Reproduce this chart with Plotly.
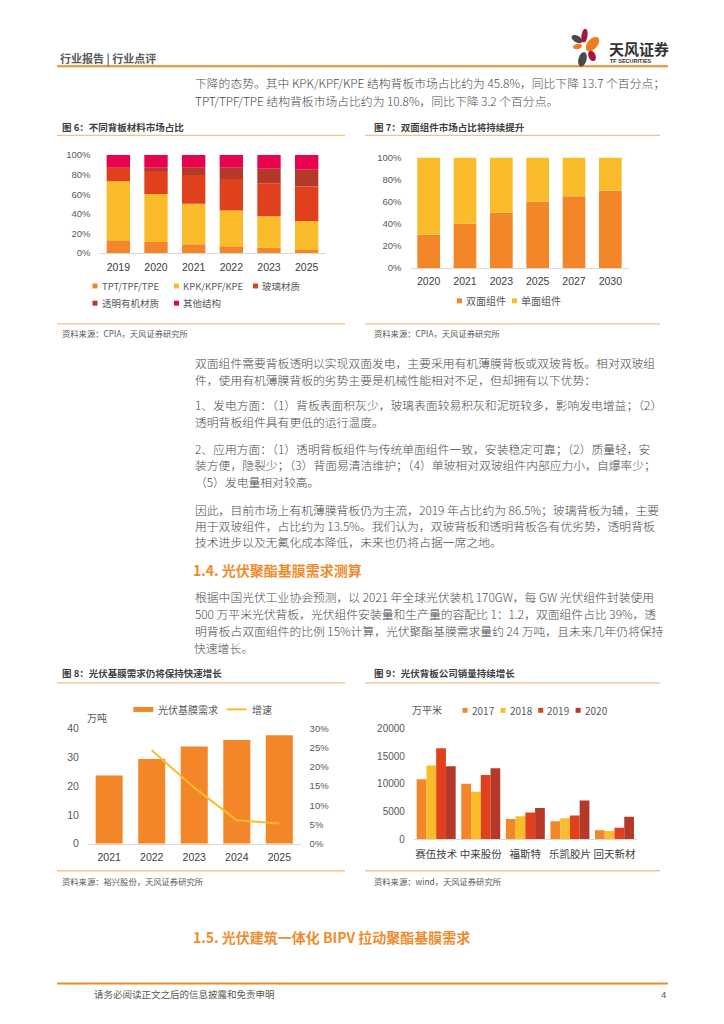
import math
import numpy as np
import plotly.graph_objects as go

W, H = 724, 1024
def X(p): return p / W
def Y(p): return 1 - p / H

CJK = "Noto Sans CJK SC"
NUM = "Liberation Sans, Noto Sans CJK SC"

# ---------------- data ----------------
c6_years = ["2019", "2020", "2021", "2022", "2023", "2025"]
c6_tpt = [13.1, 11.4, 9.1, 7.0, 5.4, 3.0]
c6_kpk = [60.1, 48.7, 41.2, 36.3, 32.2, 29.6]
c6_glass = [13.7, 23.5, 29.2, 32.2, 33.5, 35.2]
c6_organic = [0.0, 3.3, 7.4, 11.4, 14.8, 17.1]
c6_other = [13.1, 13.1, 13.1, 13.1, 14.1, 15.1]
c6_names = ["TPT/TPF/TPE", "KPK/KPF/KPE", "玻璃材质", "透明有机材质", "其他结构"]
c6_ticks = [0, 20, 40, 60, 80, 100]

c7_years = ["2020", "2021", "2023", "2025", "2027", "2030"]
c7_double = [30, 40, 50, 60, 65, 70]
c7_single = [70, 60, 50, 40, 35, 30]
c7_names = ["双面组件", "单面组件"]

c8_years = ["2021", "2022", "2023", "2024", "2025"]
c8_demand = [23.7, 29.4, 33.7, 36.0, 37.6]
c8_growth = [None, 0.243, 0.146, 0.061, 0.053]
c8_names = ["光伏基膜需求", "增速"]
c8_left_ticks = [0, 10, 20, 30, 40]
c8_right_ticks = [0, 0.05, 0.10, 0.15, 0.20, 0.25, 0.30]

c9_companies = ["赛伍技术", "中来股份", "福斯特", "乐凯胶片", "回天新材"]
c9_years = ["2017", "2018", "2019", "2020"]
c9_2017 = [10800, 10000, 3650, 3250, 1600]
c9_2018 = [13300, 8550, 4150, 3750, 1450]
c9_2019 = [16400, 11600, 4800, 4250, 2050]
c9_2020 = [13150, 12800, 5600, 7000, 4050]
c9_ticks = [0, 5000, 10000, 15000, 20000]

# ---------------- colours ----------------
ORANGE = "#F4862A"
YELLOW = "#FBBC2C"
RED = "#E0401C"
DARKRED = "#B5392B"
PINK = "#E8034F"
TXT = "#404040"
BODY = "#4A4A4A"
GRAY = "#595959"
AXIS = "#D9D9D9"
HEAD_OR = "#F08B2C"
LIGHT_OR = "#F6C08C"

fig = go.Figure()

# chart 6: stacked shares of backsheet materials
base = np.zeros(len(c6_years))
for vals, name, col in zip([c6_tpt, c6_kpk, c6_glass, c6_organic, c6_other], c6_names,
                           [ORANGE, YELLOW, RED, DARKRED, PINK]):
    fig.add_trace(go.Bar(x=c6_years, y=vals, base=base.copy(), name=name, marker_color=col,
                         marker_line_width=0, width=0.62, xaxis="x", yaxis="y", showlegend=False))
    base += np.array(vals)

# chart 7: bifacial vs monofacial
base = np.zeros(len(c7_years))
for vals, name, col in zip([c7_double, c7_single], c7_names, [ORANGE, YELLOW]):
    fig.add_trace(go.Bar(x=c7_years, y=vals, base=base.copy(), name=name, marker_color=col,
                         marker_line_width=0, width=0.625, xaxis="x2", yaxis="y2", showlegend=False))
    base += np.array(vals)

# chart 8: film demand + growth
fig.add_trace(go.Bar(x=c8_years, y=c8_demand, name=c8_names[0], marker_color=ORANGE,
                     marker_line_width=0, width=0.635, xaxis="x3", yaxis="y3", showlegend=False))
fig.add_trace(go.Scatter(x=c8_years, y=c8_growth, name=c8_names[1], mode="lines",
                         line=dict(color=YELLOW, width=2), xaxis="x3", yaxis="y4",
                         showlegend=False, connectgaps=False))

# chart 9: grouped company sales
bw = 0.2185
for i, (vals, name, col) in enumerate(zip([c9_2017, c9_2018, c9_2019, c9_2020], c9_years,
                                          [ORANGE, YELLOW, RED, DARKRED])):
    fig.add_trace(go.Bar(x=c9_companies, y=vals, name=name, marker_color=col, marker_line_width=0,
                         width=bw, offset=-2 * bw + i * bw, xaxis="x5", yaxis="y5", showlegend=False))

def xax(d0, d1, anchor, n, fs=10.5, standoff=4):
    return dict(domain=[X(d0), X(d1)], anchor=anchor, type="category", range=[-0.5, n - 0.5],
                showline=True, linecolor=AXIS, linewidth=1, ticks="", showgrid=False, zeroline=False,
                tickfont=dict(family=NUM, size=fs, color=TXT), ticklabelstandoff=standoff, fixedrange=True)

def yax(top, bottom, anchor, rng, vals, text, fs=9.5, standoff=8, side="left", overlay=None):
    d = dict(domain=[Y(bottom), Y(top)], anchor=anchor, range=rng, tickvals=vals, ticktext=text,
             showline=False, showgrid=False, zeroline=False, ticks="", side=side,
             tickfont=dict(family=NUM, size=fs, color=GRAY), ticklabelstandoff=standoff, fixedrange=True)
    if overlay:
        d["overlaying"] = overlay
        d.pop("domain")
    return d

fig.update_layout(
    width=W, height=H, autosize=False, margin=dict(l=0, r=0, t=0, b=0),
    paper_bgcolor="white", plot_bgcolor="white", barmode="overlay", showlegend=False,
    font=dict(family=CJK, color=TXT),
    xaxis=xax(99.5, 325.5, "y", 6),
    yaxis=yax(150.7, 250, "x", [0, 100], c6_ticks, [f"{v}%" for v in c6_ticks]),
    xaxis2=xax(410.5, 628.5, "y2", 6),
    yaxis2=yax(153.3, 265, "x2", [0, 100], c6_ticks, [f"{v}%" for v in c6_ticks]),
    xaxis3=xax(87.9, 300.6, "y3", 5),
    yaxis3=yax(731, 847.7, "x3", [0, 40], c8_left_ticks, [str(v) for v in c8_left_ticks], fs=10.5),
    yaxis4=yax(731, 847.7, "x3", [0, 0.30], c8_right_ticks,
               [f"{round(v*100)}%" for v in c8_right_ticks], side="right", overlay="y3"),
    xaxis5=xax(413.9, 636.8, "y5", 5, fs=10.5, standoff=5),
    yaxis5=yax(731, 843, "x5", [0, 20000], c9_ticks, [str(v) for v in c9_ticks], fs=10),
)

ann = []
def T(x, y, s, size=11.5, color=TXT, bold=False, anchor="left", family=CJK, weight=None):
    txt = f"<b>{s}</b>" if bold else s
    f = dict(family=family, size=size, color=color)
    if weight is not None:
        f["weight"] = weight
    ann.append(dict(x=X(x), y=Y(y), xref="paper", yref="paper", text=txt, showarrow=False,
                    xanchor=anchor, yanchor="middle", font=f))

shapes = []
def HL(x0, x1, y, color, w):
    shapes.append(dict(type="line", xref="paper", yref="paper", x0=X(x0), x1=X(x1), y0=Y(y), y1=Y(y),
                       line=dict(color=color, width=w)))
def RECT(x0, y0, x1, y1, color):
    shapes.append(dict(type="rect", xref="paper", yref="paper", x0=X(x0), x1=X(x1), y0=Y(y1), y1=Y(y0),
                       fillcolor=color, line=dict(width=0)))
def ELL(cx, cy, rx, ry, ang, color):
    a = math.radians(ang)
    pts = []
    for k in range(40):
        t = 2 * math.pi * k / 40
        ex, ey = rx * math.cos(t), ry * math.sin(t)
        px = cx + ex * math.cos(a) - ey * math.sin(a)
        py = cy + ex * math.sin(a) + ey * math.cos(a)
        pts.append(f"{X(px):.5f},{Y(py):.5f}")
    shapes.append(dict(type="path", xref="paper", yref="paper", path="M" + " L".join(pts) + " Z",
                       fillcolor=color, line=dict(width=0)))

# ---------------- header ----------------
T(58, 53, "行业报告 | 行业点评", size=11, color=GRAY, bold=True)
HL(57, 668, 61, HEAD_OR, 2)
ELL(577, 33.5, 6, 3.3, 30, "#4A4A4A")
ELL(584.5, 30, 3, 7, 8, "#A8143F")
ELL(592.5, 38.5, 5, 8.5, 40, "#EF7F1A")
ELL(577.5, 41, 4.5, 2.6, -12, "#EF7F1A")
ELL(592, 50.5, 3.5, 5.5, -22, "#A8143F")
ELL(582.5, 54, 4, 7.5, 15, "#4A4A4A")
T(607, 43.5, "天风证券", size=15, color="#333333", bold=True)
T(608, 55.5, "TF SECURITIES", size=5.5, color="#333333", bold=True, family=NUM)

# ---------------- body text ----------------
body = [
    (77.7, "下降的态势。其中 KPK/KPF/KPE 结构背板市场占比约为 45.8%，同比下降 13.7 个百分点；"),
    (96, "TPT/TPF/TPE 结构背板市场占比约为 10.8%，同比下降 3.2 个百分点。"),
    (360.7, "双面组件需要背板透明以实现双面发电，主要采用有机薄膜背板或双玻背板。相对双玻组"),
    (377.7, "件，使用有机薄膜背板的劣势主要是机械性能相对不足，但却拥有以下优势："),
    (403.3, "1、发电方面：（1）背板表面积灰少，玻璃表面较易积灰和泥斑较多，影响发电增益；（2）"),
    (420, "透明背板组件具有更低的运行温度。"),
    (447.3, "2、应用方面：（1）透明背板组件与传统单面组件一致，安装稳定可靠；（2）质量轻，安"),
    (464.3, "装方便，隐裂少；（3）背面易清洁维护；（4）单玻相对双玻组件内部应力小，自爆率少；"),
    (481.3, "（5）发电量相对较高。"),
    (509, "因此，目前市场上有机薄膜背板仍为主流，2019 年占比约为 86.5%；玻璃背板为辅，主要"),
    (525.5, "用于双玻组件，占比约为 13.5%。我们认为，双玻背板和透明背板各有优劣势，透明背板"),
    (541.7, "技术进步以及无氟化成本降低，未来也仍将占据一席之地。"),
    (597.7, "根据中国光伏工业协会预测，以 2021 年全球光伏装机 170GW，每 GW 光伏组件封装使用"),
    (615, "500 万平米光伏背板，光伏组件安装量和生产量的容配比 1：1.2，双面组件占比 39%，透"),
    (631.7, "明背板占双面组件的比例 15%计算，光伏聚酯基膜需求量约 24 万吨，且未来几年仍将保持"),
    (649, "快速增长。"),
]
for y, s in body:
    T(192.5, y, s, size=11.8, color=BODY, weight=300)
T(191, 571, "1.4. 光伏聚酯基膜需求测算", size=14, color=HEAD_OR, bold=True)
T(191, 942, "1.5. 光伏建筑一体化 BIPV 拉动聚酯基膜需求", size=14, color=HEAD_OR, bold=True)

# ---------------- chart frames ----------------
for (x0, x1, x_t, ty, ly, sy, st, title, src) in [
    (57, 345, 60, 122.7, 131, 321.7, 330.7, "图 6：不同背板材料市场占比", "资料来源：CPIA，天风证券研究所"),
    (365, 660, 371.7, 122.7, 131, 321.7, 330.7, "图 7：双面组件市场占比将持续提升", "资料来源：CPIA，天风证券研究所"),
    (57, 345, 60, 675, 685, 875, 885, "图 8：光伏基膜需求仍将保持快速增长", "资料来源：裕兴股份，天风证券研究所"),
    (365, 660, 371.7, 675, 685, 875, 885, "图 9：光伏背板公司销量持续增长", "资料来源：wind，天风证券研究所"),
]:
    T(x_t, ty, title, size=9.5, color=TXT, bold=True)
    HL(x0, x1, ly, LIGHT_OR, 1.3)
    HL(x0, x1, sy, LIGHT_OR, 1.3)
    T(x_t, st, src, size=8.3, color=GRAY)

# ---------------- legends ----------------
def LEG_SQ(x, y, color, label, size=9.5):
    RECT(x, y - 2.5, x + 5, y + 2.5, color)
    T(x + 7, y, label, size=size, color=GRAY)

LEG_SQ(92.5, 283.3, ORANGE, c6_names[0])
LEG_SQ(174, 283.3, YELLOW, c6_names[1])
LEG_SQ(253, 283.3, RED, c6_names[2])
LEG_SQ(92.5, 300.7, DARKRED, c6_names[3])
LEG_SQ(174, 300.7, PINK, c6_names[4])

LEG_SQ(457, 298.3, ORANGE, c7_names[0], size=10)
LEG_SQ(512, 298.3, YELLOW, c7_names[1], size=10)

RECT(133.3, 709.3, 153.3, 714.3, ORANGE)
T(156, 711.7, c8_names[0], size=10, color=GRAY)
HL(226.7, 246.7, 711.7, YELLOW, 2)
T(249.5, 711.7, c8_names[1], size=10, color=GRAY)
T(85, 720, "万吨", size=10, color=GRAY)

for xm, col, lab in zip([462.5, 500.5, 538.2, 575.6], [ORANGE, YELLOW, RED, DARKRED], c9_years):
    LEG_SQ(xm, 712.7, col, lab, size=10)
T(410, 711.7, "万平米", size=10, color=GRAY)

# ---------------- footer ----------------
HL(57, 668, 989, HEAD_OR, 2)
T(92, 1000, "请务必阅读正文之后的信息披露和免责申明", size=9.5, color=GRAY)
T(668, 1000, "4", size=9.5, color=GRAY, anchor="right", family=NUM)

fig.update_layout(annotations=ann, shapes=shapes)
fig.write_html("out.html", config={"displayModeBar": False},
               post_script="document.body.style.margin='0';document.body.style.overflow='hidden';")
